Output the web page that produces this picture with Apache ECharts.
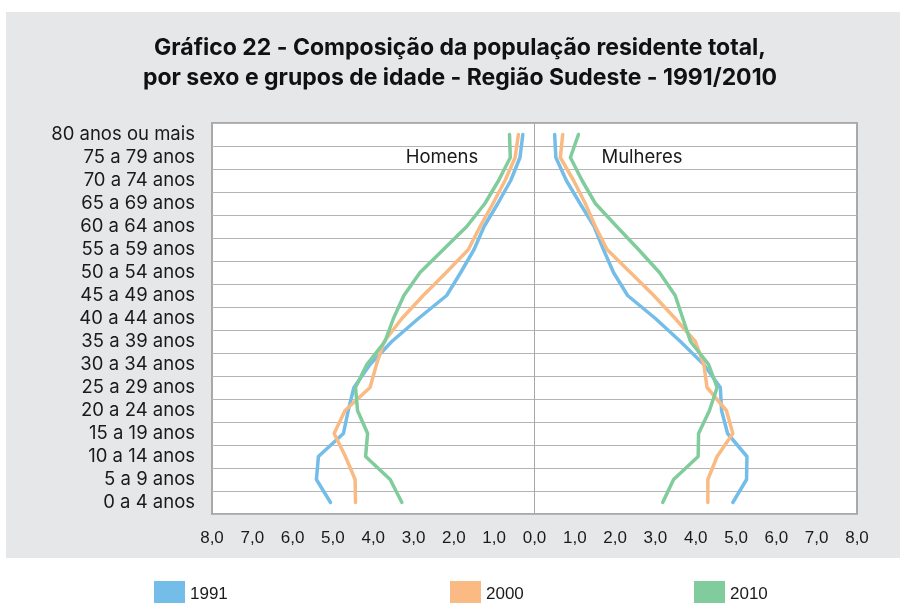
<!DOCTYPE html>
<html>
<head>
<meta charset="utf-8">
<script src="https://cdn.jsdelivr.net/npm/echarts@6/dist/echarts.min.js"></script>
<style>
html,body{margin:0;padding:0;background:#fff;}
#bg{position:absolute;left:6px;top:12px;width:894px;height:546px;background:#e6e7e9;}
#chart{position:absolute;left:0;top:0;width:900px;height:603px;}
</style>
</head>
<body>
<div id="bg"></div>
<div id="chart"></div>
<script>
// Age groups, bottom to top
const categories = ["0 a 4 anos","5 a 9 anos","10 a 14 anos","15 a 19 anos","20 a 24 anos","25 a 29 anos","30 a 34 anos","35 a 39 anos","40 a 44 anos","45 a 49 anos","50 a 54 anos","55 a 59 anos","60 a 64 anos","65 a 69 anos","70 a 74 anos","75 a 79 anos","80 anos ou mais"];
const years = ["1991","2000","2010"];
// Percent of population, men (plotted to the left)
const men1991 = [5.06,5.41,5.36,4.74,4.62,4.48,4.08,3.54,2.88,2.18,1.83,1.50,1.25,0.91,0.59,0.36,0.29];
const men2000 = [4.44,4.45,4.69,4.97,4.70,4.08,3.92,3.73,3.29,2.76,2.19,1.64,1.35,1.03,0.73,0.48,0.40];
const men2010 = [3.29,3.58,4.19,4.14,4.39,4.44,4.16,3.71,3.50,3.24,2.84,2.26,1.68,1.23,0.89,0.60,0.62];
// Percent of population, women (plotted to the right)
const women1991 = [4.92,5.26,5.27,4.79,4.64,4.61,4.20,3.62,3.00,2.31,1.96,1.71,1.48,1.13,0.79,0.53,0.50];
const women2000 = [4.30,4.30,4.53,4.92,4.76,4.28,4.20,3.99,3.49,2.96,2.38,1.80,1.51,1.26,0.97,0.64,0.70];
const women2010 = [3.18,3.45,4.06,4.07,4.34,4.53,4.32,3.87,3.68,3.49,3.10,2.58,2.04,1.51,1.18,0.89,1.09];
const colors = ["#74bde9","#f9bb83","#80cc9c"];

const chart = echarts.init(document.getElementById('chart'), null, {renderer:'canvas'});
const font = "Inter, 'Liberation Sans', Arial, sans-serif";
const numFont = "'Liberation Sans', Arial, sans-serif";
const menSets = [men1991, men2000, men2010];
const womenSets = [women1991, women2000, women2010];
const series = [];
years.forEach((y,i)=>{
  series.push({name:y,type:'line',data:menSets[i].map(v=>-v),symbol:'none',
    lineStyle:{color:colors[i],width:3.5,cap:'round',join:'round'},itemStyle:{color:colors[i]},z:3+i});
  series.push({name:y,type:'line',data:womenSets[i],symbol:'none',
    lineStyle:{color:colors[i],width:3.5,cap:'round',join:'round'},itemStyle:{color:colors[i]},z:3+i});
});
series[0].markLine = {silent:true,symbol:'none',label:{show:false},
  lineStyle:{color:'#a9a9a9',width:1,type:'solid'},data:[{xAxis:0}],z:1};
const legendPos = [149,445,689];
const legends = years.map((y,i)=>({
  data:[y],left:legendPos[i],top:576,itemWidth:31,itemHeight:27,icon:'rect',itemGap:10,
  textStyle:{fontFamily:numFont,fontSize:17,color:'#1a1a1a',padding:[0,0,0,0]},selectedMode:false
}));
chart.setOption({
  animation:false,
  color:colors,
  legend:legends,
  grid:{left:212,right:43,top:123,bottom:89,show:true,backgroundColor:'#fff',borderColor:'#a9a9a9',borderWidth:2},
  xAxis:{type:'value',min:-8,max:8,interval:1,
    axisLine:{show:false},axisTick:{show:false},splitLine:{show:false},
    axisLabel:{fontFamily:numFont,fontSize:17,color:'#1a1a1a',margin:16,
      formatter:v=>Math.abs(v).toFixed(1).replace('.',','), showMinLabel:true, showMaxLabel:true}},
  yAxis:{type:'category',data:categories,boundaryGap:true,
    axisLine:{show:false},axisTick:{show:false},
    splitLine:{show:true,interval:0,lineStyle:{color:'#b4b4b4',width:1}},
    axisLabel:{interval:0,fontFamily:font,fontSize:18.5,color:'#1a1a1a',margin:17}},
  graphic:[
    {type:'text',x:460,y:48,style:{text:'Gráfico 22 - Composição da população residente total,',
      font:"bold 23px Inter, 'Liberation Sans', Arial",fill:'#111',align:'center',verticalAlign:'middle'}},
    {type:'text',x:460,y:78,style:{text:'por sexo e grupos de idade - Região Sudeste - 1991/2010',
      font:"bold 23px Inter, 'Liberation Sans', Arial",fill:'#111',align:'center',verticalAlign:'middle'}},
    {type:'text',x:442,y:157,style:{text:'Homens',font:"18.5px Inter, 'Liberation Sans', Arial",fill:'#1a1a1a',align:'center',verticalAlign:'middle'}},
    {type:'text',x:642,y:157,style:{text:'Mulheres',font:"18.5px Inter, 'Liberation Sans', Arial",fill:'#1a1a1a',align:'center',verticalAlign:'middle'}}
  ],
  series:series
});
</script>
</body>
</html>
